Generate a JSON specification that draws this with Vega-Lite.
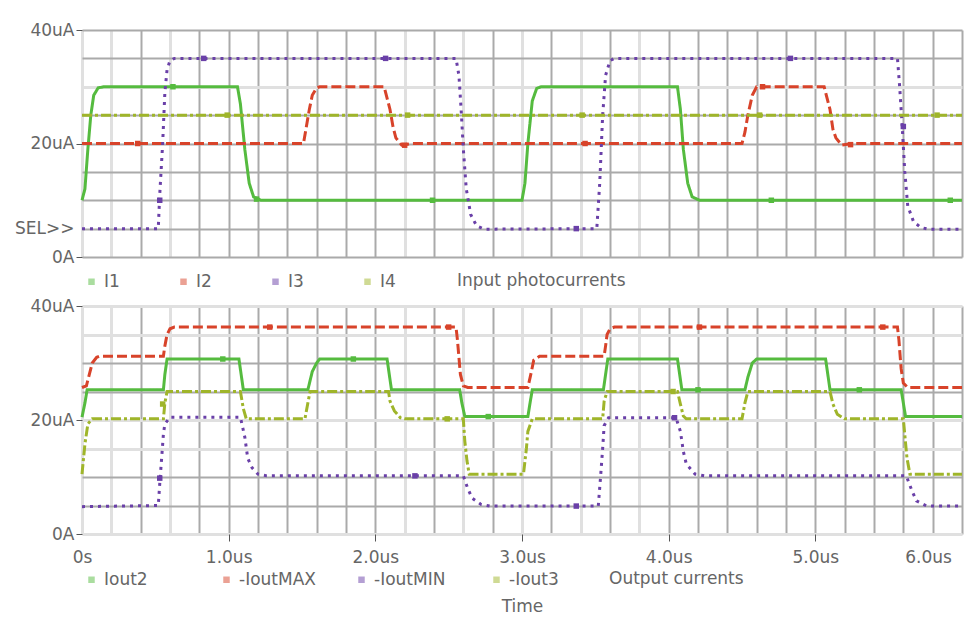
{
  "$schema": "https://vega.github.io/schema/vega-lite/v6.json",
  "padding": {"left": 14, "top": 21, "right": 0, "bottom": 0},
  "background": "white",
  "spacing": 7,
  "config": {
    "view": {"stroke": null},
    "font": "DejaVu Sans",
    "axis": {
      "domain": false,
      "labelFlush": false,
      "labelFontSize": 17,
      "labelColor": "#666666",
      "titleFontSize": 17,
      "titleFontWeight": "normal",
      "titleColor": "#666666",
      "tickColor": "#555555",
      "gridColor": "#aaaaaa",
      "gridWidth": 2
    },
    "legend": {
      "labelFontSize": 17,
      "labelColor": "#666666",
      "titleFontSize": 17,
      "titleFontWeight": "normal",
      "titleColor": "#666666",
      "symbolType": "square",
      "symbolSize": 42,
      "symbolOpacity": 0.5,
      "symbolStrokeWidth": 0,
      "labelOffset": 4,
      "gridAlign": "all",
      "direction": "horizontal",
      "columns": 4,
      "titleOrient": "right"
    }
  },
  "datasets": {
    "top": [
      {"s":"I1","t":0,"v":10},{"s":"I1","t":0.02,"v":12},{"s":"I1","t":0.04,"v":19},{"s":"I1","t":0.06,"v":25},{"s":"I1","t":0.08,"v":28.5},{"s":"I1","t":0.11,"v":29.8},{"s":"I1","t":0.15,"v":30},{"s":"I1","t":1.06,"v":30},{"s":"I1","t":1.08,"v":27},{"s":"I1","t":1.11,"v":19},{"s":"I1","t":1.14,"v":13},{"s":"I1","t":1.17,"v":10.6},{"s":"I1","t":1.22,"v":10},{"s":"I1","t":3.0,"v":10},{"s":"I1","t":3.02,"v":13},{"s":"I1","t":3.04,"v":20},{"s":"I1","t":3.07,"v":27.5},{"s":"I1","t":3.1,"v":29.7},{"s":"I1","t":3.13,"v":30},{"s":"I1","t":4.06,"v":30},{"s":"I1","t":4.08,"v":26},{"s":"I1","t":4.1,"v":19},{"s":"I1","t":4.13,"v":13},{"s":"I1","t":4.16,"v":10.6},{"s":"I1","t":4.21,"v":10},{"s":"I1","t":6,"v":10},
      {"s":"I2","t":0,"v":20},{"s":"I2","t":1.51,"v":20},{"s":"I2","t":1.53,"v":23},{"s":"I2","t":1.55,"v":26},{"s":"I2","t":1.57,"v":28.5},{"s":"I2","t":1.6,"v":29.8},{"s":"I2","t":1.62,"v":30},{"s":"I2","t":2.06,"v":30},{"s":"I2","t":2.08,"v":28},{"s":"I2","t":2.1,"v":26},{"s":"I2","t":2.12,"v":23},{"s":"I2","t":2.14,"v":21},{"s":"I2","t":2.18,"v":19.7},{"s":"I2","t":2.25,"v":20},{"s":"I2","t":4.5,"v":20},{"s":"I2","t":4.52,"v":22},{"s":"I2","t":4.54,"v":25},{"s":"I2","t":4.57,"v":28.5},{"s":"I2","t":4.6,"v":30},{"s":"I2","t":5.06,"v":30},{"s":"I2","t":5.08,"v":28},{"s":"I2","t":5.1,"v":26},{"s":"I2","t":5.12,"v":22.5},{"s":"I2","t":5.14,"v":21},{"s":"I2","t":5.18,"v":19.7},{"s":"I2","t":5.25,"v":20},{"s":"I2","t":6,"v":20},
      {"s":"I3","t":0,"v":5},{"s":"I3","t":0.52,"v":5},{"s":"I3","t":0.53,"v":11},{"s":"I3","t":0.55,"v":20},{"s":"I3","t":0.565,"v":29},{"s":"I3","t":0.58,"v":33},{"s":"I3","t":0.6,"v":34.6},{"s":"I3","t":0.63,"v":35},{"s":"I3","t":2.55,"v":35},{"s":"I3","t":2.57,"v":32},{"s":"I3","t":2.585,"v":26},{"s":"I3","t":2.6,"v":19},{"s":"I3","t":2.62,"v":12},{"s":"I3","t":2.65,"v":7.5},{"s":"I3","t":2.69,"v":5.5},{"s":"I3","t":2.74,"v":4.9},{"s":"I3","t":3.51,"v":5},{"s":"I3","t":3.53,"v":13},{"s":"I3","t":3.55,"v":25},{"s":"I3","t":3.57,"v":32},{"s":"I3","t":3.6,"v":34.6},{"s":"I3","t":3.63,"v":35},{"s":"I3","t":5.56,"v":35},{"s":"I3","t":5.575,"v":30},{"s":"I3","t":5.59,"v":24},{"s":"I3","t":5.61,"v":15},{"s":"I3","t":5.63,"v":9},{"s":"I3","t":5.67,"v":6.2},{"s":"I3","t":5.72,"v":5.2},{"s":"I3","t":5.77,"v":4.9},{"s":"I3","t":6,"v":4.9},
      {"s":"I4","t":0,"v":25},{"s":"I4","t":6,"v":25}
    ],
    "topMarks": [
      {"s":"I1","t":0.62,"v":30},{"s":"I1","t":1.19,"v":10.2},{"s":"I1","t":2.39,"v":10},{"s":"I1","t":4.7,"v":10},{"s":"I1","t":5.92,"v":10},
      {"s":"I2","t":0.38,"v":20},{"s":"I2","t":2.2,"v":19.7},{"s":"I2","t":3.43,"v":20},{"s":"I2","t":4.64,"v":30},{"s":"I2","t":5.24,"v":19.8},
      {"s":"I3","t":0.83,"v":35},{"s":"I3","t":2.07,"v":35},{"s":"I3","t":3.37,"v":5},{"s":"I3","t":4.83,"v":35},{"s":"I3","t":0.53,"v":10},{"s":"I3","t":5.6,"v":23},
      {"s":"I4","t":0.99,"v":25},{"s":"I4","t":2.22,"v":25},{"s":"I4","t":3.41,"v":25},{"s":"I4","t":4.62,"v":25},{"s":"I4","t":5.83,"v":25}
    ],
    "bottom": [
      {"s":"Iout2","t":0,"v":20.5},{"s":"Iout2","t":0.02,"v":23},{"s":"Iout2","t":0.035,"v":25.3},{"s":"Iout2","t":0.555,"v":25.3},{"s":"Iout2","t":0.565,"v":28},{"s":"Iout2","t":0.58,"v":30.7},{"s":"Iout2","t":1.07,"v":30.7},{"s":"Iout2","t":1.085,"v":28},{"s":"Iout2","t":1.1,"v":25.3},{"s":"Iout2","t":1.54,"v":25.3},{"s":"Iout2","t":1.57,"v":28.5},{"s":"Iout2","t":1.6,"v":30},{"s":"Iout2","t":1.62,"v":30.7},{"s":"Iout2","t":2.08,"v":30.7},{"s":"Iout2","t":2.095,"v":28},{"s":"Iout2","t":2.11,"v":25.3},{"s":"Iout2","t":2.575,"v":25.3},{"s":"Iout2","t":2.59,"v":23},{"s":"Iout2","t":2.61,"v":20.6},{"s":"Iout2","t":3.04,"v":20.6},{"s":"Iout2","t":3.055,"v":23},{"s":"Iout2","t":3.07,"v":25.3},{"s":"Iout2","t":3.555,"v":25.3},{"s":"Iout2","t":3.57,"v":28},{"s":"Iout2","t":3.585,"v":30.7},{"s":"Iout2","t":4.06,"v":30.7},{"s":"Iout2","t":4.075,"v":28},{"s":"Iout2","t":4.09,"v":25.3},{"s":"Iout2","t":4.52,"v":25.3},{"s":"Iout2","t":4.54,"v":27.5},{"s":"Iout2","t":4.57,"v":30},{"s":"Iout2","t":4.6,"v":30.7},{"s":"Iout2","t":5.07,"v":30.7},{"s":"Iout2","t":5.085,"v":28},{"s":"Iout2","t":5.1,"v":25.3},{"s":"Iout2","t":5.585,"v":25.3},{"s":"Iout2","t":5.6,"v":23},{"s":"Iout2","t":5.615,"v":20.6},{"s":"Iout2","t":6,"v":20.6},
      {"s":"-IoutMAX","t":0,"v":25.7},{"s":"-IoutMAX","t":0.03,"v":26},{"s":"-IoutMAX","t":0.05,"v":28},{"s":"-IoutMAX","t":0.07,"v":30},{"s":"-IoutMAX","t":0.1,"v":31},{"s":"-IoutMAX","t":0.12,"v":31.2},{"s":"-IoutMAX","t":0.555,"v":31.2},{"s":"-IoutMAX","t":0.565,"v":33},{"s":"-IoutMAX","t":0.58,"v":35},{"s":"-IoutMAX","t":0.6,"v":36},{"s":"-IoutMAX","t":0.63,"v":36.3},{"s":"-IoutMAX","t":2.55,"v":36.3},{"s":"-IoutMAX","t":2.56,"v":34},{"s":"-IoutMAX","t":2.57,"v":31},{"s":"-IoutMAX","t":2.58,"v":28},{"s":"-IoutMAX","t":2.6,"v":26},{"s":"-IoutMAX","t":2.63,"v":25.7},{"s":"-IoutMAX","t":3.04,"v":25.7},{"s":"-IoutMAX","t":3.06,"v":28},{"s":"-IoutMAX","t":3.08,"v":30.5},{"s":"-IoutMAX","t":3.12,"v":31.2},{"s":"-IoutMAX","t":3.56,"v":31.2},{"s":"-IoutMAX","t":3.57,"v":33},{"s":"-IoutMAX","t":3.58,"v":35},{"s":"-IoutMAX","t":3.6,"v":36},{"s":"-IoutMAX","t":3.63,"v":36.3},{"s":"-IoutMAX","t":5.56,"v":36.3},{"s":"-IoutMAX","t":5.57,"v":34},{"s":"-IoutMAX","t":5.585,"v":29},{"s":"-IoutMAX","t":5.6,"v":26.5},{"s":"-IoutMAX","t":5.63,"v":25.7},{"s":"-IoutMAX","t":6,"v":25.7},
      {"s":"-IoutMIN","t":0,"v":4.8},{"s":"-IoutMIN","t":0.52,"v":5},{"s":"-IoutMIN","t":0.53,"v":8.8},{"s":"-IoutMIN","t":0.545,"v":14},{"s":"-IoutMIN","t":0.555,"v":17.5},{"s":"-IoutMIN","t":0.565,"v":19.3},{"s":"-IoutMIN","t":0.6,"v":20.5},{"s":"-IoutMIN","t":1.08,"v":20.5},{"s":"-IoutMIN","t":1.11,"v":17},{"s":"-IoutMIN","t":1.13,"v":13.3},{"s":"-IoutMIN","t":1.16,"v":11.6},{"s":"-IoutMIN","t":1.2,"v":10.5},{"s":"-IoutMIN","t":1.26,"v":10.2},{"s":"-IoutMIN","t":2.6,"v":10.2},{"s":"-IoutMIN","t":2.63,"v":8},{"s":"-IoutMIN","t":2.66,"v":6.3},{"s":"-IoutMIN","t":2.72,"v":5.2},{"s":"-IoutMIN","t":2.78,"v":4.9},{"s":"-IoutMIN","t":3.52,"v":4.9},{"s":"-IoutMIN","t":3.535,"v":9.8},{"s":"-IoutMIN","t":3.55,"v":15},{"s":"-IoutMIN","t":3.56,"v":19},{"s":"-IoutMIN","t":3.59,"v":20.4},{"s":"-IoutMIN","t":4.05,"v":20.4},{"s":"-IoutMIN","t":4.08,"v":18},{"s":"-IoutMIN","t":4.1,"v":14.5},{"s":"-IoutMIN","t":4.12,"v":12.3},{"s":"-IoutMIN","t":4.18,"v":10.5},{"s":"-IoutMIN","t":4.25,"v":10.2},{"s":"-IoutMIN","t":5.62,"v":10.2},{"s":"-IoutMIN","t":5.66,"v":7.5},{"s":"-IoutMIN","t":5.69,"v":5.8},{"s":"-IoutMIN","t":5.76,"v":4.9},{"s":"-IoutMIN","t":6,"v":4.9},
      {"s":"-Iout3","t":0,"v":10.5},{"s":"-Iout3","t":0.02,"v":15.8},{"s":"-Iout3","t":0.04,"v":19.3},{"s":"-Iout3","t":0.07,"v":20.2},{"s":"-Iout3","t":0.555,"v":20.2},{"s":"-Iout3","t":0.565,"v":23},{"s":"-Iout3","t":0.58,"v":25},{"s":"-Iout3","t":1.08,"v":25},{"s":"-Iout3","t":1.1,"v":22},{"s":"-Iout3","t":1.12,"v":20.2},{"s":"-Iout3","t":1.52,"v":20.2},{"s":"-Iout3","t":1.54,"v":23},{"s":"-Iout3","t":1.555,"v":25},{"s":"-Iout3","t":2.09,"v":25},{"s":"-Iout3","t":2.1,"v":23.3},{"s":"-Iout3","t":2.13,"v":21.6},{"s":"-Iout3","t":2.17,"v":20.4},{"s":"-Iout3","t":2.2,"v":20.2},{"s":"-Iout3","t":2.6,"v":20.2},{"s":"-Iout3","t":2.61,"v":16.3},{"s":"-Iout3","t":2.625,"v":12.8},{"s":"-Iout3","t":2.64,"v":10.5},{"s":"-Iout3","t":3.01,"v":10.5},{"s":"-Iout3","t":3.03,"v":15},{"s":"-Iout3","t":3.04,"v":18},{"s":"-Iout3","t":3.07,"v":20.2},{"s":"-Iout3","t":3.55,"v":20.2},{"s":"-Iout3","t":3.56,"v":23.3},{"s":"-Iout3","t":3.58,"v":25},{"s":"-Iout3","t":4.06,"v":25},{"s":"-Iout3","t":4.08,"v":22.8},{"s":"-Iout3","t":4.1,"v":20.7},{"s":"-Iout3","t":4.12,"v":20.2},{"s":"-Iout3","t":4.5,"v":20.2},{"s":"-Iout3","t":4.52,"v":23},{"s":"-Iout3","t":4.54,"v":25},{"s":"-Iout3","t":5.1,"v":25},{"s":"-Iout3","t":5.12,"v":22.8},{"s":"-Iout3","t":5.15,"v":21},{"s":"-Iout3","t":5.2,"v":20.2},{"s":"-Iout3","t":5.6,"v":20.2},{"s":"-Iout3","t":5.615,"v":16},{"s":"-Iout3","t":5.625,"v":13.3},{"s":"-Iout3","t":5.645,"v":10.5},{"s":"-Iout3","t":6,"v":10.5}
    ],
    "bottomMarks": [
      {"s":"Iout2","t":0.96,"v":30.7},{"s":"Iout2","t":1.85,"v":30.7},{"s":"Iout2","t":2.77,"v":20.6},{"s":"Iout2","t":4.2,"v":25.3},{"s":"Iout2","t":5.3,"v":25.3},
      {"s":"-IoutMAX","t":1.28,"v":36.3},{"s":"-IoutMAX","t":2.5,"v":36.3},{"s":"-IoutMAX","t":4.21,"v":36.3},{"s":"-IoutMAX","t":5.46,"v":36.3},
      {"s":"-IoutMIN","t":0.53,"v":9.8},{"s":"-IoutMIN","t":2.27,"v":10.2},{"s":"-IoutMIN","t":3.37,"v":4.9},{"s":"-IoutMIN","t":4.04,"v":20.4},
      {"s":"-Iout3","t":0.55,"v":22.8},{"s":"-Iout3","t":2.49,"v":20.2},{"s":"-Iout3","t":4.03,"v":25}
    ]
  },
  "vconcat": [
    {
      "width": 880,
      "height": 227,
      "encoding": {
        "x": {
          "field": "t", "type": "quantitative",
          "scale": {"domain": [0, 6], "nice": false, "zero": false},
          "axis": {
            "values": [0,0.2,0.4,0.6,0.8,1,1.2,1.4,1.6,1.8,2,2.2,2.4,2.6,2.8,3,3.2,3.4,3.6,3.8,4,4.2,4.4,4.6,4.8,5,5.2,5.4,5.6,5.8,6],
            "labels": false, "ticks": false, "title": null,
            "gridColor": {"condition": {"test": "indexof([0,0.2,0.6,2.2,2.6,3,3.4,3.8], datum.value) >= 0", "value": "#e0e0e0"}, "value": "#aaaaaa"},
            "gridWidth": {"condition": {"test": "indexof([0,0.2,0.6,2.2,2.6,3,3.4,3.8], datum.value) >= 0", "value": 3}, "value": 2}
          }
        },
        "y": {
          "field": "v", "type": "quantitative",
          "scale": {"domain": [0, 40], "nice": false},
          "axis": {
            "values": [0,5,10,15,20,25,30,35,40],
            "title": null,
            "tickSize": 6,
            "labelPadding": 2,
            "labelExpr": "datum.value === 40 ? '40uA' : datum.value === 20 ? '20uA' : datum.value === 5 ? 'SEL>>' : datum.value === 0 ? '0A' : ''",
            "tickOpacity": {"condition": {"test": "datum.value % 20 === 0", "value": 1}, "value": 0},
            "gridColor": {"condition": {"test": "datum.value === 30", "value": "#e0e0e0"}, "value": "#aaaaaa"},
            "gridWidth": {"condition": {"test": "datum.value === 30", "value": 3}, "value": 2}
          }
        },
        "color": {
          "field": "s", "type": "nominal",
          "scale": {"domain": ["I1","I2","I3","I4"], "range": ["#55bb3f","#d8432a","#6a40a8","#9fb52a"]},
          "legend": {"orient": "none", "legendX": 1, "legendY": 243, "title": "Input photocurrents", "columnPadding": 55, "titlePadding": 61}
        }
      },
      "layer": [
        {
          "data": {"name": "top"},
          "mark": {"type": "line", "strokeWidth": 3, "strokeCap": "butt"},
          "encoding": {
            "strokeDash": {"field": "s", "type": "nominal", "scale": {"domain": ["I1","I2","I3","I4"], "range": [[1,0],[10,4],[3,5],[10,3,3,3]]}, "legend": null}
          }
        },
        {
          "data": {"name": "topMarks"},
          "mark": {"type": "point", "shape": "square", "filled": true, "size": 30, "opacity": 1}
        }
      ]
    },
    {
      "width": 880,
      "height": 228,
      "encoding": {
        "x": {
          "field": "t", "type": "quantitative",
          "scale": {"domain": [0, 6], "nice": false, "zero": false},
          "axis": {
            "values": [0,0.2,0.4,0.6,0.8,1,1.2,1.4,1.6,1.8,2,2.2,2.4,2.6,2.8,3,3.2,3.4,3.6,3.8,4,4.2,4.4,4.6,4.8,5,5.2,5.4,5.6,5.8,6],
            "title": "Time",
            "titlePadding": 33,
            "tickSize": 7,
            "labelPadding": 8,
            "labelExpr": "datum.value === 0 ? '0s' : (datum.value % 1 === 0 ? format(datum.value, '.1f') + 'us' : '')",
            "labelOffset": {"condition": {"test": "datum.value === 6", "value": -34}, "value": 0},
            "tickOpacity": {"condition": {"test": "datum.value % 1 === 0 && datum.value > 0 && datum.value < 6", "value": 1}, "value": 0},
            "gridColor": {"condition": {"test": "indexof([0,0.2,0.6,2.2,2.6,3,3.4,3.8], datum.value) >= 0", "value": "#e0e0e0"}, "value": "#aaaaaa"},
            "gridWidth": {"condition": {"test": "indexof([0,0.2,0.6,2.2,2.6,3,3.4,3.8], datum.value) >= 0", "value": 3}, "value": 2}
          }
        },
        "y": {
          "field": "v", "type": "quantitative",
          "scale": {"domain": [0, 40], "nice": false},
          "axis": {
            "values": [0,5,10,15,20,25,30,35,40],
            "title": null,
            "tickSize": 6,
            "labelPadding": 2,
            "labelExpr": "datum.value === 40 ? '40uA' : datum.value === 20 ? '20uA' : datum.value === 0 ? '0A' : ''",
            "tickOpacity": {"condition": {"test": "datum.value % 20 === 0", "value": 1}, "value": 0},
            "gridColor": {"condition": {"test": "indexof([0,15,20,35,40], datum.value) >= 0", "value": "#e0e0e0"}, "value": "#aaaaaa"},
            "gridWidth": {"condition": {"test": "indexof([0,15,20,35,40], datum.value) >= 0", "value": 3}, "value": 2}
          }
        },
        "color": {
          "field": "s", "type": "nominal",
          "scale": {"domain": ["Iout2","-IoutMAX","-IoutMIN","-Iout3"], "range": ["#55bb3f","#d8432a","#6a40a8","#9fb52a"]},
          "legend": {"orient": "none", "legendX": 1, "legendY": 265, "title": "Output currents", "columnPadding": 37, "titlePadding": 50}
        }
      },
      "layer": [
        {
          "data": {"name": "bottom"},
          "mark": {"type": "line", "strokeWidth": 3, "strokeCap": "butt"},
          "encoding": {
            "strokeDash": {"field": "s", "type": "nominal", "scale": {"domain": ["Iout2","-IoutMAX","-IoutMIN","-Iout3"], "range": [[1,0],[10,4],[3,5],[10,3,3,3]]}, "legend": null}
          }
        },
        {
          "data": {"name": "bottomMarks"},
          "mark": {"type": "point", "shape": "square", "filled": true, "size": 30, "opacity": 1}
        }
      ]
    }
  ],
  "resolve": {"scale": {"color": "independent", "strokeDash": "independent"}, "legend": {"color": "independent"}}
}
